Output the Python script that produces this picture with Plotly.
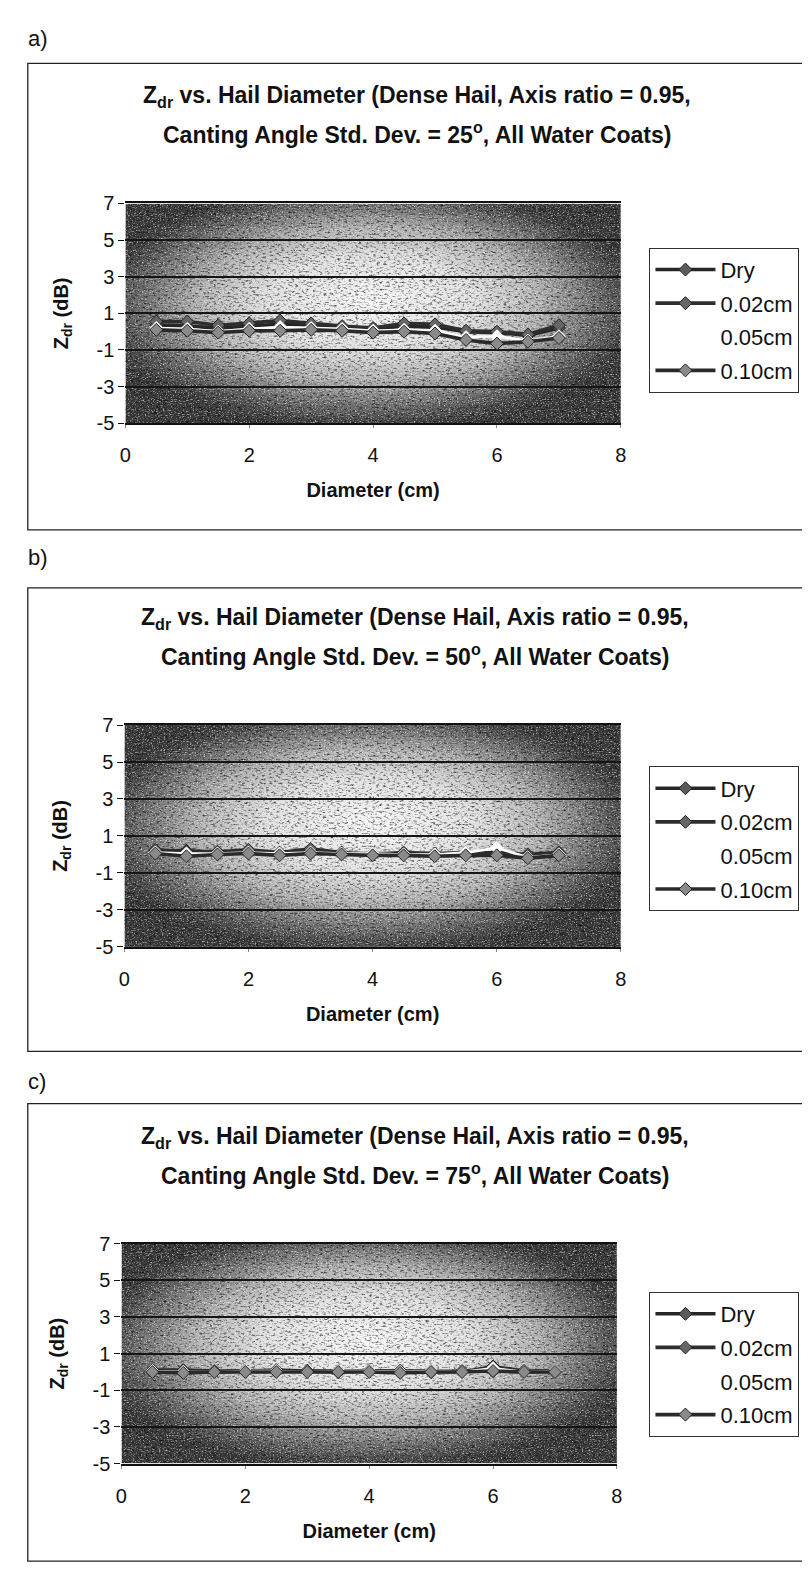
import base64
import plotly.graph_objects as go

# ---------------- data ----------------
diameter_cm = [0.5, 1.0, 1.5, 2.0, 2.5, 3.0, 3.5, 4.0, 4.5, 5.0, 5.5, 6.0, 6.5, 7.0]
series_names = ["Dry", "0.02cm", "0.05cm", "0.10cm"]
x_ticks = [0, 2, 4, 6, 8]
y_ticks = [-5, -3, -1, 1, 3, 5, 7]
panel_labels = ["a)", "b)", "c)"]
canting_std_deg = [25, 50, 75]

# panel a) canting std dev 25 deg
a_dry = [0.35, 0.30, 0.20, 0.30, 0.40, 0.35, 0.25, 0.15, 0.30, 0.25, 0.00, -0.05, -0.20, 0.20]
a_002 = [0.55, 0.55, 0.35, 0.45, 0.60, 0.45, 0.30, 0.20, 0.45, 0.40, 0.05, 0.00, -0.15, 0.35]
a_005 = [0.20, 0.15, 0.00, 0.15, 0.25, 0.20, 0.15, 0.05, 0.10, 0.05, -0.30, -0.25, -0.50, -0.25]
a_010 = [0.10, 0.05, -0.05, 0.05, 0.05, 0.10, 0.05, -0.05, 0.00, -0.10, -0.45, -0.65, -0.55, -0.35]

# panel b) canting std dev 50 deg
b_dry = [0.20, 0.20, 0.10, 0.20, 0.05, 0.25, 0.05, 0.05, 0.05, 0.00, 0.05, 0.10, 0.00, 0.10]
b_002 = [0.25, 0.15, 0.15, 0.25, 0.10, 0.30, 0.10, 0.00, 0.10, 0.05, 0.10, 0.05, -0.10, 0.10]
b_005 = [0.10, 0.05, 0.05, 0.10, 0.05, 0.10, 0.05, 0.05, 0.00, 0.00, 0.10, 0.35, -0.15, 0.00]
b_010 = [0.05, -0.10, 0.00, 0.05, -0.05, 0.05, 0.00, -0.05, -0.05, -0.10, -0.05, -0.05, -0.20, -0.05]

# panel c) canting std dev 75 deg
c_dry = [0.05, 0.05, 0.00, 0.05, 0.05, 0.05, 0.00, 0.05, 0.05, 0.00, 0.05, 0.05, 0.00, 0.05]
c_002 = [0.10, 0.10, 0.05, 0.05, 0.10, 0.05, 0.05, 0.05, 0.05, 0.05, 0.00, 0.30, 0.05, 0.05]
c_005 = [0.05, 0.00, 0.00, 0.05, 0.05, 0.00, 0.05, 0.05, 0.00, 0.05, 0.00, 0.20, 0.00, 0.05]
c_010 = [0.00, -0.05, 0.00, 0.00, 0.00, 0.00, 0.00, 0.00, -0.05, 0.00, 0.00, 0.05, 0.00, 0.00]

panel_series = [
    [a_dry, a_002, a_005, a_010],
    [b_dry, b_002, b_005, b_010],
    [c_dry, c_002, c_005, c_010],
]

# ---------------- styles / layout geometry (pixels) ----------------
W, H = 810, 1579
FONT = "Liberation Sans, Arial, Helvetica, sans-serif"
line_colors = ["#262626", "#2e2e2e", "#ffffff", "#2a2a2a"]
marker_colors = ["#5a5a5a", "#666666", "#ffffff", "#8a8a8a"]
marker_lines = ["#222222", "#222222", "#ffffff", "#222222"]
line_widths = [3.6, 3.6, 2.6, 3.6]

geom = [
    dict(label_y=20, box=(14, 45, 805, 518), plot=(113, 187, 616, 410), legend=(645, 232)),
    dict(label_y=546, box=(14, 577, 801, 1047), plot=(112, 716, 616, 941), legend=(645, 758)),
    dict(label_y=1078, box=(14, 1100, 801, 1564), plot=(109, 1242, 612, 1465), legend=(645, 1291)),
]


def px(x):
    return x / W


def py(y):
    return 1 - y / H


svg = """<svg xmlns="http://www.w3.org/2000/svg" width="500" height="224" viewBox="0 0 500 224" preserveAspectRatio="none">
<defs>
<radialGradient id="g" cx="0.49" cy="0.47" r="0.56" fx="0.5" fy="0.44">
<stop offset="0" stop-color="#f6f6f6"/>
<stop offset="0.38" stop-color="#e0e0e0"/>
<stop offset="0.62" stop-color="#b2b2b2"/>
<stop offset="0.8" stop-color="#747474"/>
<stop offset="0.93" stop-color="#484848"/>
<stop offset="1" stop-color="#383838"/>
</radialGradient>
<filter id="n" x="0" y="0" width="100%" height="100%">
<feTurbulence type="fractalNoise" baseFrequency="0.28 0.55" numOctaves="3" seed="7" stitchTiles="stitch"/>
<feColorMatrix type="matrix" values="0 0 0 0 0  0 0 0 0 0  0 0 0 0 0  -2.0 0 0 0 1.0"/>
</filter>
<filter id="m" x="0" y="0" width="100%" height="100%">
<feTurbulence type="fractalNoise" baseFrequency="0.6 0.9" numOctaves="2" seed="11" stitchTiles="stitch"/>
<feColorMatrix type="matrix" values="0 0 0 0 1  0 0 0 0 1  0 0 0 0 1  2.0 0 0 0 -1.05"/>
</filter>
</defs>
<rect width="500" height="224" fill="url(#g)"/>
<rect width="500" height="224" filter="url(#n)"/>
<rect width="500" height="224" filter="url(#m)"/>
</svg>"""
bg_uri = "data:image/svg+xml;base64," + base64.b64encode(svg.encode()).decode()

fig = go.Figure()
layout = dict(
    width=W, height=H,
    margin=dict(l=0, r=0, t=0, b=0),
    paper_bgcolor="white",
    plot_bgcolor="rgba(0,0,0,0)",
    font=dict(family=FONT, color="#111111"),
    showlegend=True,
    shapes=[], annotations=[], images=[],
)

for i, g in enumerate(geom):
    n = "" if i == 0 else str(i + 1)
    xa, ya = "x" + n, "y" + n
    leg = "legend" + n
    l, t, r, b = g["plot"]
    for k, name in enumerate(series_names):
        fig.add_trace(go.Scatter(
            x=diameter_cm, y=panel_series[i][k], name=name,
            mode="lines+markers",
            line=dict(color=line_colors[k], width=line_widths[k]),
            marker=dict(symbol="diamond", size=10, color=marker_colors[k],
                        line=dict(color=marker_lines[k], width=1)),
            xaxis=xa, yaxis=ya, legend=leg, legendgroup=f"{i}-{k}",
        ))
    layout["xaxis" + n] = dict(
        domain=[px(l), px(r)], range=[0, 8], tickvals=x_ticks,
        ticktext=[str(v) for v in x_ticks], anchor=ya,
        ticks="outside", ticklen=3, tickcolor="#888", showgrid=False, zeroline=False,
        showline=True, linecolor="#111", linewidth=2, mirror=True,
        tickfont=dict(size=20), ticklabelstandoff=10,
        title=dict(text="<b>Diameter (cm)</b>", font=dict(size=20), standoff=18),
    )
    layout["yaxis" + n] = dict(
        domain=[py(b), py(t)], range=[-5, 7], tickvals=y_ticks,
        ticktext=[str(v) for v in y_ticks], anchor=xa,
        ticks="outside", ticklen=6, tickcolor="#111", showgrid=True,
        gridcolor="#151515", gridwidth=1.6, zeroline=False, showline=False,
        tickfont=dict(size=20),
        title=dict(text="<b>Z<sub>dr</sub> (dB)</b>", font=dict(size=20), standoff=22),
    )
    lx, ly = g["legend"]
    layout[leg] = dict(
        x=px(lx), y=py(ly), xanchor="left", yanchor="top",
        bgcolor="white", bordercolor="#333", borderwidth=1,
        font=dict(size=22), itemwidth=60, tracegroupgap=2,
    )
    layout["images"].append(dict(
        source=bg_uri, xref=xa, yref=ya, x=0, y=7, sizex=8, sizey=12,
        sizing="stretch", xanchor="left", yanchor="top", layer="below",
    ))
    bx0, by0, bx1, by1 = g["box"]
    layout["shapes"].append(dict(
        type="rect", xref="paper", yref="paper",
        x0=px(bx0), x1=px(bx1), y0=py(by1), y1=py(by0),
        line=dict(color="#222", width=1.3), fillcolor="rgba(0,0,0,0)", layer="below",
    ))
    cx = (bx0 + bx1) / 2
    layout["annotations"] += [
        dict(text=panel_labels[i], xref="paper", yref="paper", x=px(12), y=py(g["label_y"]),
             xanchor="left", yanchor="middle", showarrow=False, font=dict(size=22)),
        dict(text="<b>Z<sub>dr</sub> vs. Hail Diameter (Dense Hail, Axis ratio = 0.95,</b>",
             xref="paper", yref="paper", x=px(cx), y=py(t - 108), xanchor="center",
             yanchor="middle", showarrow=False, font=dict(size=23)),
        dict(text=f"<b>Canting Angle Std. Dev. = {canting_std_deg[i]}<sup>o</sup>, All Water Coats)</b>",
             xref="paper", yref="paper", x=px(cx), y=py(t - 71), xanchor="center",
             yanchor="middle", showarrow=False, font=dict(size=23)),
    ]

fig.update_layout(**layout)
fig.write_html("out.html")
